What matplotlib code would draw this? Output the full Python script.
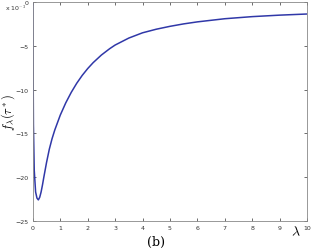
import numpy as np
import matplotlib
matplotlib.use('Agg')
import matplotlib.pyplot as plt

plt.rcParams['mathtext.fontset'] = 'cm'

# values (f in units of 1e-3)
lam = [0.0, 0.01, 0.02, 0.05, 0.1, 0.15, 0.2, 0.25, 0.3, 0.35, 0.4, 0.5,
       0.6, 0.7, 0.8, 1.0, 1.2, 1.4, 1.6, 1.8, 2.0, 2.2, 2.5, 2.8, 3.0,
       3.5, 4.0, 4.5, 5.0, 5.5, 6.0, 7.0, 8.0, 9.0, 10.0]
f = [0.0, -8.0, -14.0, -19.2, -21.7, -22.4, -22.6, -22.3, -21.7, -20.9,
     -20.0, -18.3, -16.8, -15.6, -14.6, -12.9, -11.5, -10.3, -9.26, -8.36,
     -7.58, -6.9, -6.03, -5.31, -4.89, -4.09, -3.49, -3.08, -2.75, -2.47,
     -2.24, -1.88, -1.64, -1.47, -1.34]
xticks = list(range(11))
yticks = [0, -5, -10, -15, -20, -25]

fig = plt.figure(figsize=(3.13, 2.53), dpi=100)
ax = fig.add_axes([0.105, 0.123, 0.876, 0.864])
ax.plot(lam, f, c='#3038a8', lw=1.1)
ax.set_xlim(0, 10)
ax.set_ylim(-25, 0)
ax.set_xticks(xticks)
ax.set_yticks(yticks)
ax.tick_params(direction='in', length=2.5, width=0.5, labelsize=4.5,
               colors='#333333', top=True, right=True, pad=3)
for s in ax.spines.values():
    s.set_linewidth(0.6)
    s.set_color('#888888')

fig.text(0.015, 0.955, r'x 10$^{-3}$', fontsize=4.5, color='#333333')
ax.set_ylabel(r'$f_\lambda(\tau^*)$', fontsize=9, labelpad=-1)
fig.text(0.945, 0.082, r'$\lambda$', fontsize=10, ha='center', va='center')
fig.text(0.5, 0.04, '(b)', fontsize=9, family='serif', ha='center', va='center')

fig.savefig('out.png', dpi=100)
